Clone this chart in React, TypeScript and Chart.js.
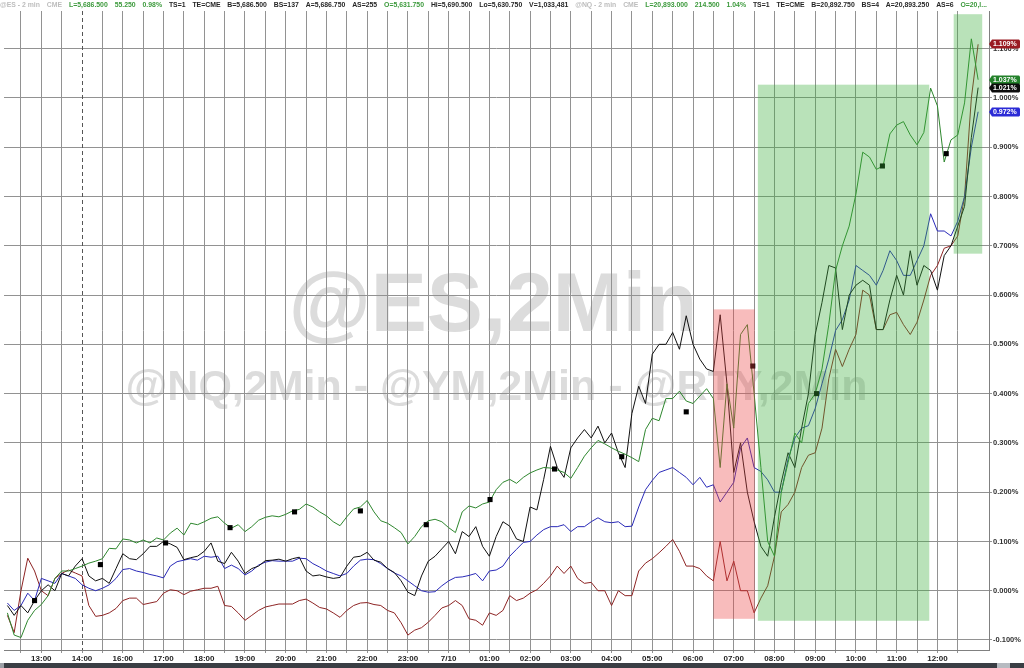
import { useEffect, useRef } from 'react';
import { Chart, registerables } from 'chart.js';

Chart.register(...registerables);

// ---- data (10-minute samples, percent change) ----
const TIME_LABELS = ['13:00', '14:00', '16:00', '17:00', '18:00', '19:00', '20:00', '21:00', '22:00', '23:00', '7/10', '01:00', '02:00', '03:00', '04:00', '05:00', '06:00', '07:00', '08:00', '09:00', '10:00', '11:00', '12:00'];
const Y_TICKS = [-0.1, 0, 0.1, 0.2, 0.3, 0.4, 0.5, 0.6, 0.7, 0.8, 0.9, 1.0, 1.1];

const NQ_PCT = [
  -0.045, -0.09, -0.095, -0.06, -0.04, -0.028, -0.01, 0.025, 0.04, 0.04,
  0.045, 0.05, 0.056, 0.06, 0.065, 0.086, 0.085, 0.105, 0.103, 0.097,
  0.103, 0.097, 0.107, 0.103, 0.117, 0.127, 0.113, 0.137, 0.134, 0.14,
  0.147, 0.15, 0.137, 0.127, 0.134, 0.12, 0.13, 0.143, 0.149, 0.152,
  0.15, 0.155, 0.162, 0.165, 0.176, 0.17, 0.16, 0.152, 0.14, 0.132,
  0.15, 0.166, 0.17, 0.183, 0.16, 0.142, 0.137, 0.128, 0.118, 0.095,
  0.11, 0.13, 0.142, 0.145, 0.14, 0.128, 0.118, 0.16, 0.172, 0.168,
  0.176, 0.18, 0.205, 0.22, 0.226, 0.218, 0.23, 0.239, 0.245, 0.25,
  0.249, 0.245, 0.24, 0.228, 0.25, 0.273, 0.29, 0.305, 0.298, 0.29,
  0.283, 0.277, 0.27, 0.262, 0.327, 0.35, 0.345, 0.39, 0.39, 0.405,
  0.385, 0.38, 0.395, 0.41, 0.39, 0.25, 0.42, 0.33, 0.52, 0.54,
  0.4, 0.25, 0.1, 0.07, 0.2, 0.26, 0.32, 0.3, 0.38, 0.4,
  0.45, 0.54, 0.65, 0.7, 0.74, 0.805, 0.89, 0.88, 0.855, 0.862,
  0.927, 0.945, 0.952, 0.925, 0.905, 0.93, 1.02, 0.984, 0.87, 0.915,
  0.925, 0.99, 1.12, 1.037,
];

const YM_PCT = [
  -0.03, -0.05, -0.03, -0.045, -0.02, 0.0, 0.012, 0.0, 0.035, 0.03,
  0.05, 0.065, 0.03, 0.02, 0.025, 0.015, 0.045, 0.075, 0.065, 0.063,
  0.075, 0.09, 0.09, 0.1, 0.095, 0.088, 0.063, 0.067, 0.07, 0.08,
  0.097, 0.06, 0.055, 0.078, 0.06, 0.035, 0.045, 0.05, 0.061, 0.062,
  0.064, 0.06, 0.065, 0.068, 0.04, 0.03, 0.032, 0.028, 0.025, 0.027,
  0.05, 0.068, 0.07, 0.078, 0.062, 0.058, 0.045, 0.037, 0.02, -0.003,
  -0.01, 0.03, 0.06, 0.07, 0.085, 0.1, 0.075, 0.12, 0.11, 0.13,
  0.09, 0.07, 0.11, 0.14, 0.131, 0.105, 0.1, 0.17, 0.164, 0.226,
  0.293, 0.25, 0.23, 0.29, 0.31, 0.327, 0.31, 0.334, 0.3, 0.32,
  0.28, 0.25, 0.36, 0.415, 0.38, 0.48, 0.5, 0.5, 0.524, 0.49,
  0.558, 0.5, 0.47, 0.45, 0.445, 0.56, 0.42, 0.24, 0.3, 0.2,
  0.14, 0.09, 0.07, 0.15, 0.22, 0.28, 0.25, 0.33, 0.4, 0.52,
  0.585, 0.66, 0.655, 0.53, 0.6, 0.62, 0.63, 0.62, 0.53, 0.53,
  0.59, 0.64, 0.6, 0.69, 0.62, 0.66, 0.65, 0.61, 0.68, 0.7,
  0.74, 0.78, 0.92, 1.021,
];

const ES_PCT = [
  -0.025, -0.04, -0.03, -0.005, -0.02, 0.025, 0.02, 0.015, 0.035, 0.03,
  0.025, 0.012, 0.005, 0.0, 0.005, 0.012, 0.025, 0.043, 0.045, 0.04,
  0.037, 0.033, 0.03, 0.026, 0.05, 0.059, 0.062, 0.065, 0.062, 0.07,
  0.068, 0.07, 0.045, 0.052, 0.045, 0.032, 0.04, 0.052, 0.058, 0.061,
  0.06, 0.06, 0.06, 0.066, 0.065, 0.055, 0.048, 0.04, 0.035, 0.03,
  0.035, 0.05, 0.062, 0.064, 0.063, 0.055, 0.045, 0.036, 0.03, 0.02,
  0.01, 0.0, -0.003, -0.002, 0.01, 0.02, 0.027, 0.028, 0.031, 0.035,
  0.02, 0.04, 0.042, 0.05, 0.07, 0.084, 0.098, 0.1, 0.113, 0.124,
  0.13, 0.13, 0.134, 0.12, 0.13, 0.13, 0.14, 0.148, 0.14, 0.138,
  0.14, 0.13, 0.131, 0.17, 0.205, 0.224, 0.24, 0.245, 0.25, 0.24,
  0.23, 0.215, 0.23, 0.21, 0.215, 0.18, 0.2, 0.22, 0.29, 0.31,
  0.25, 0.242, 0.225, 0.2, 0.2, 0.267, 0.31, 0.33, 0.335, 0.37,
  0.42, 0.47, 0.528, 0.55, 0.59, 0.66, 0.65, 0.64, 0.62, 0.65,
  0.69, 0.67, 0.64, 0.64, 0.67, 0.7, 0.765, 0.73, 0.73, 0.72,
  0.75, 0.8, 0.9, 0.972,
];

const RTY_PCT = [
  -0.05, -0.085, 0.0, 0.066, 0.04, 0.0, -0.01, 0.025, 0.035, 0.042,
  0.036, 0.03, -0.03, -0.052, -0.05, -0.045, -0.036, -0.02, -0.015, -0.015,
  -0.028, -0.025, -0.022, -0.005, 0.002, 0.0, -0.008, -0.001, 0.002, 0.005,
  0.005, 0.009, -0.03, -0.032, -0.045, -0.06, -0.05, -0.04, -0.033, -0.03,
  -0.027, -0.027, -0.027, -0.02, -0.017, -0.025, -0.034, -0.037, -0.045, -0.054,
  -0.04, -0.03, -0.025, -0.024, -0.028, -0.03, -0.04, -0.045, -0.065, -0.09,
  -0.08, -0.075, -0.064, -0.05, -0.035, -0.03, -0.02, -0.03, -0.057, -0.06,
  -0.07, -0.045, -0.05, -0.04, -0.01, -0.02, -0.015, -0.005, 0.002, 0.015,
  0.03, 0.05, 0.035, 0.05, 0.025, 0.015, 0.017, 0.0, 0.0, -0.03,
  0.0, -0.01, -0.01, 0.04, 0.056, 0.065, 0.077, 0.09, 0.104, 0.08,
  0.05, 0.05, 0.045, 0.03, 0.02, 0.1, 0.02, 0.06, 0.0, 0.0,
  -0.045, -0.015, 0.01, 0.07, 0.16, 0.175, 0.2, 0.25, 0.275, 0.28,
  0.33, 0.43, 0.49, 0.455, 0.49, 0.52, 0.61, 0.6, 0.53, 0.53,
  0.56, 0.565, 0.54, 0.52, 0.545, 0.59, 0.64, 0.66, 0.695, 0.7,
  0.72, 0.8, 1.0, 1.109,
];

// black square markers (sample index, percent)
const MARK_IDX = [4, 13.7, 23.3, 32.8, 42.3, 52, 61.7, 71.1, 80.6, 90.5, 100, 109.8, 119.2, 128.9, 138.3];
const MARK_PCT = [-0.02, 0.053, 0.097, 0.128, 0.16, 0.162, 0.134, 0.185, 0.247, 0.272, 0.363, 0.456, 0.4, 0.862, 0.887];

// shaded zones (sample index range, percent range)
const ZONE_FROM = [104.0, 110.55, 139.4];
const ZONE_TO = [110.1, 135.8, 143.6];
const ZONE_LOW = [-0.057, -0.061, 0.684];
const ZONE_HIGH = [0.571, 1.027, 1.17];
const ZONE_KIND = ['down', 'up', 'up'];

const SESSION_BREAK_IDX = 11;

const HEADER_TOKENS = ['@ES - 2 min', 'CME', 'L=5,686.500', '55.250', '0.98%', 'TS=1', 'TE=CME', 'B=5,686.500', 'BS=137', 'A=5,686.750', 'AS=255', 'O=5,631.750', 'Hi=5,690.500', 'Lo=5,630.750', 'V=1,033,481', '@NQ - 2 min', 'CME', 'L=20,893.000', '214.500', '1.04%', 'TS=1', 'TE=CME', 'B=20,892.750', 'BS=4', 'A=20,893.250', 'AS=6', 'O=20,l...'];
const HEADER_KIND = ['muted', 'muted', 'up', 'up', 'up', 'plain', 'plain', 'plain', 'plain', 'plain', 'plain', 'up', 'plain', 'plain', 'plain', 'muted', 'muted', 'up', 'up', 'up', 'plain', 'plain', 'plain', 'plain', 'plain', 'plain', 'up'];

const WATERMARK_MAIN = '@ES,2Min';
const WATERMARK_SUB = '@NQ,2Min - @YM,2Min - @RTY,2Min';

// ---- styles ----
const GREEN = '#2e872e';
const BLACK = '#111111';
const BLUE = '#2a2ab8';
const RED = '#8e2424';
const GRID = '#929292';
const FONT = 'Arial, "Liberation Sans", sans-serif';

const toPoints = (arr: number[]) => arr.map((y, i) => ({ x: i, y }));

const overlayPlugin = {
  id: 'overlay',
  beforeDraw(chart: any) {
    const { ctx, chartArea: a } = chart;
    ctx.save();
    ctx.fillStyle = '#ffffff';
    ctx.fillRect(0, 0, chart.width, chart.height);
    ctx.fillStyle = '#dcdcdc';
    ctx.textAlign = 'center';
    ctx.textBaseline = 'alphabetic';
    ctx.font = `bold 84px ${FONT}`;
    ctx.fillText(WATERMARK_MAIN, a.left + a.width * 0.4965, a.top + a.height * 0.5);
    ctx.font = `bold 43px ${FONT}`;
    ctx.fillText(WATERMARK_SUB, a.left + a.width * 0.5, a.top + a.height * 0.609);
    ctx.restore();
  },
  beforeDatasetsDraw(chart: any) {
    const { ctx, chartArea: a, scales } = chart;
    const x = Math.round(scales.x.getPixelForValue(SESSION_BREAK_IDX)) + 0.5;
    ctx.save();
    ctx.strokeStyle = '#555';
    ctx.lineWidth = 1;
    ctx.setLineDash([4, 3]);
    ctx.beginPath();
    ctx.moveTo(x, a.top);
    ctx.lineTo(x, a.bottom);
    ctx.stroke();
    ctx.restore();
  },
  afterDatasetsDraw(chart: any) {
    const { ctx, scales } = chart;
    ctx.save();
    ZONE_FROM.forEach((from, k) => {
      const x0 = scales.x.getPixelForValue(from);
      const x1 = scales.x.getPixelForValue(ZONE_TO[k]);
      const y0 = scales.y.getPixelForValue(ZONE_HIGH[k]);
      const y1 = scales.y.getPixelForValue(ZONE_LOW[k]);
      ctx.fillStyle = ZONE_KIND[k] === 'up' ? 'rgba(60,175,60,0.36)' : 'rgba(235,70,70,0.36)';
      ctx.fillRect(x0, y0, x1 - x0, y1 - y0);
    });
    ctx.restore();
  },
  afterDraw(chart: any) {
    const { ctx, scales, chartArea: a } = chart;
    ctx.save();
    // last-value tags
    const tags = [
      { v: RTY_PCT[RTY_PCT.length - 1], c: '#9a1a22' },
      { v: NQ_PCT[NQ_PCT.length - 1], c: '#23812a' },
      { v: YM_PCT[YM_PCT.length - 1], c: '#0c0c0c' },
      { v: ES_PCT[ES_PCT.length - 1], c: '#2b2bd6' },
    ];
    ctx.font = `bold 7px ${FONT}`;
    ctx.textAlign = 'left';
    ctx.textBaseline = 'middle';
    tags.forEach((t) => {
      const y = Math.round(scales.y.getPixelForValue(t.v));
      const x = a.right;
      ctx.fillStyle = t.c;
      ctx.beginPath();
      ctx.moveTo(x, y);
      ctx.lineTo(x + 3, y - 4.5);
      ctx.lineTo(x + 30, y - 4.5);
      ctx.lineTo(x + 31, y - 3.5);
      ctx.lineTo(x + 31, y + 3.5);
      ctx.lineTo(x + 30, y + 4.5);
      ctx.lineTo(x + 3, y + 4.5);
      ctx.closePath();
      ctx.fill();
      ctx.fillStyle = '#ffffff';
      ctx.fillText(t.v.toFixed(3) + '%', x + 4, y + 0.5);
    });
    // header line
    const gapEm = 1.0;
    ctx.font = `bold 100px ${FONT}`;
    const w1 = HEADER_TOKENS.reduce((s, t) => s + ctx.measureText(t).width / 100, 0);
    const size = (a.right - 2) / (w1 + gapEm * (HEADER_TOKENS.length - 1));
    ctx.font = `bold ${size.toFixed(2)}px ${FONT}`;
    ctx.textBaseline = 'middle';
    let hx = 0;
    HEADER_TOKENS.forEach((t, k) => {
      const kind = HEADER_KIND[k];
      ctx.fillStyle = kind === 'up' ? '#3c9a3c' : kind === 'muted' ? '#bdbdbd' : '#262626';
      ctx.fillText(t, hx, 5);
      hx += ctx.measureText(t).width + gapEm * size;
    });
    // bottom scroll bar
    ctx.fillStyle = '#3a3e44';
    ctx.fillRect(0, chart.height - 5, chart.width, 5);
    ctx.fillStyle = '#b7bbc1';
    ctx.fillRect(a.right + 8, chart.height - 5, 13, 5);
    ctx.fillStyle = '#9ca0a6';
    ctx.fillRect(0, chart.height - 5, 4, 5);
    ctx.restore();
  },
};

export default function App() {
  const canvasRef = useRef<HTMLCanvasElement | null>(null);

  useEffect(() => {
    const canvas = canvasRef.current;
    if (!canvas) return;
    const gridValues = Array.from({ length: 47 }, (_, n) => 2 + 3 * n);
    const chart = new Chart(canvas, {
      type: 'line',
      data: {
        datasets: [
          {
            label: 'Markers',
            data: MARK_IDX.map((x, k) => ({ x, y: MARK_PCT[k] })),
            showLine: false,
            pointStyle: 'rect',
            pointRadius: 3.6,
            backgroundColor: '#000',
            borderColor: '#000',
            borderWidth: 0,
          },
          { label: 'NQ', data: toPoints(NQ_PCT), borderColor: GREEN, borderWidth: 1, pointRadius: 0 },
          { label: 'YM', data: toPoints(YM_PCT), borderColor: BLACK, borderWidth: 1, pointRadius: 0 },
          { label: 'ES', data: toPoints(ES_PCT), borderColor: BLUE, borderWidth: 1, pointRadius: 0 },
          { label: 'RTY', data: toPoints(RTY_PCT), borderColor: RED, borderWidth: 1, pointRadius: 0 },
        ] as any,
      },
      options: {
        animation: false,
        responsive: false,
        devicePixelRatio: 1,
        events: [],
        layout: { padding: { top: 11, left: 0, right: 0, bottom: 0 } },
        plugins: { legend: { display: false }, tooltip: { enabled: false } },
        elements: { line: { tension: 0 }, point: { radius: 0 } },
        scales: {
          x: {
            type: 'linear',
            position: 'bottom',
            min: -0.5,
            max: 144.6,
            afterBuildTicks: (scale: any) => {
              scale.ticks = gridValues.map((v) => ({ value: v }));
            },
            afterFit: (scale: any) => {
              scale.height = 18;
            },
            ticks: {
              autoSkip: false,
              maxRotation: 0,
              padding: 1,
              color: '#222',
              font: { family: FONT, size: 8, weight: 'bold' },
              callback: (value: any) => {
                const n = Math.round((Number(value) - 2) / 3);
                return n % 2 === 1 ? TIME_LABELS[(n - 1) / 2] : '';
              },
            },
            grid: {
              color: (ctx: any) => (ctx.tick && ctx.tick.value === SESSION_BREAK_IDX ? 'rgba(0,0,0,0)' : GRID),
              tickColor: GRID,
              tickLength: 3,
              lineWidth: 1,
            },
            border: { color: '#808080', width: 1 },
          },
          y: {
            type: 'linear',
            position: 'right',
            min: -0.1203,
            max: 1.1765,
            afterBuildTicks: (scale: any) => {
              scale.ticks = Y_TICKS.map((v) => ({ value: v }));
            },
            afterFit: (scale: any) => {
              scale.width = 35;
            },
            ticks: {
              padding: 1,
              color: '#333',
              font: { family: FONT, size: 7.5, weight: 'bold' },
              callback: (value: any) => Number(value).toFixed(3) + '%',
            },
            grid: { color: GRID, tickColor: GRID, tickLength: 3, lineWidth: 1 },
            border: { color: '#808080', width: 1 },
          },
        },
      } as any,
      plugins: [overlayPlugin],
    });
    return () => chart.destroy();
  }, []);

  return (
    <div style={{ position: 'fixed', left: 0, top: 0, width: 1024, height: 668, background: '#fff' }}>
      <canvas ref={canvasRef} width={1024} height={668} style={{ display: 'block' }} />
    </div>
  );
}
